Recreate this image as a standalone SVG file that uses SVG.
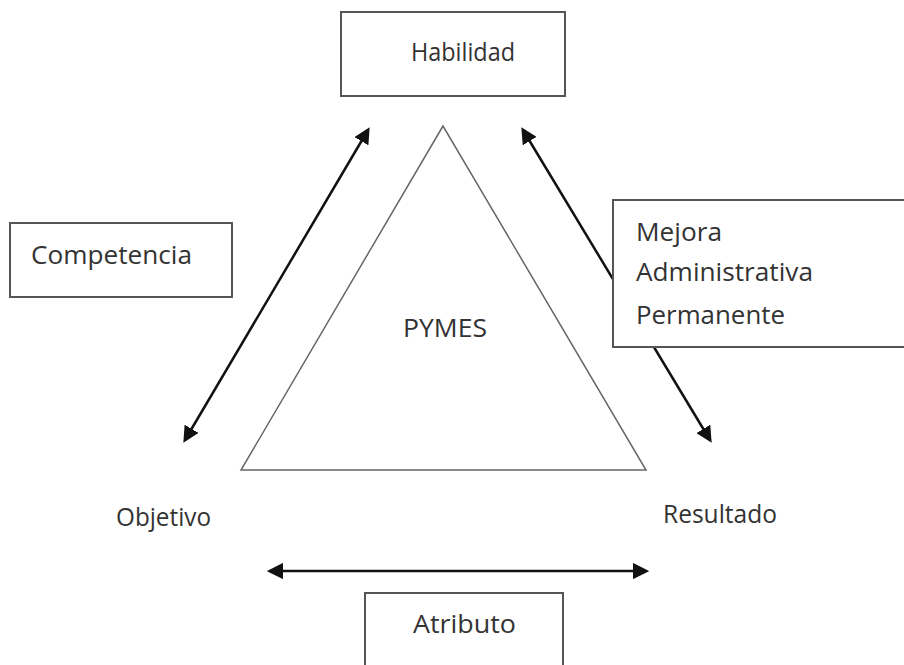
<svg xmlns="http://www.w3.org/2000/svg" width="904" height="665" viewBox="0 0 904 665">
<defs>
<style>
.box{fill:#fff;stroke:#555;stroke-width:2}
.t{font-family:"Open Sans","Liberation Sans",sans-serif;fill:#333}
.c{stroke:#111;stroke-width:2.5;fill:none;marker-start:url(#ah);marker-end:url(#ah)}
.tri{fill:#fff;stroke:#666;stroke-width:1.5}
</style>
<marker id="ah" viewBox="0 0 10 10" refX="8" refY="5" markerWidth="6.5" markerHeight="6.5" orient="auto-start-reverse" markerUnits="strokeWidth">
<path d="M0,0 L10,5 L0,10 z" fill="#111"/>
</marker>
</defs>
<rect width="904" height="665" fill="#fff"/>
<g id="connectors">
<line class="c" x1="185" y1="440" x2="368" y2="130"/>
<line class="c" x1="523" y1="130" x2="710" y2="440"/>
<line class="c" x1="270" y1="571" x2="646" y2="571"/>
</g>
<g id="pymes">
<polygon class="tri" points="443,126 241,470 646,470"/>
<text class="t" x="403" y="337" font-size="25" textLength="84" lengthAdjust="spacingAndGlyphs">PYMES</text>
</g>
<g id="habilidad">
<rect class="box" x="341" y="12" width="224" height="84"/>
<text class="t" x="411" y="61" font-size="26" textLength="104" lengthAdjust="spacingAndGlyphs">Habilidad</text>
</g>
<g id="competencia">
<rect class="box" x="10" y="223" width="222" height="74"/>
<text class="t" x="31" y="264" font-size="26" textLength="161" lengthAdjust="spacingAndGlyphs">Competencia</text>
</g>
<g id="mejora">
<rect class="box" x="613" y="200" width="300" height="147"/>
<text class="t" x="636" y="241" font-size="26" textLength="86" lengthAdjust="spacingAndGlyphs">Mejora</text>
<text class="t" x="636" y="281" font-size="26" textLength="177" lengthAdjust="spacingAndGlyphs">Administrativa</text>
<text class="t" x="636" y="324" font-size="26" textLength="149" lengthAdjust="spacingAndGlyphs">Permanente</text>
</g>
<g id="objetivo">
<text class="t" x="116" y="526" font-size="25" textLength="95" lengthAdjust="spacingAndGlyphs">Objetivo</text>
</g>
<g id="resultado">
<text class="t" x="663" y="523" font-size="25" textLength="114" lengthAdjust="spacingAndGlyphs">Resultado</text>
</g>
<g id="atributo">
<rect class="box" x="365" y="593" width="198" height="80"/>
<text class="t" x="413" y="633" font-size="26" textLength="103" lengthAdjust="spacingAndGlyphs">Atributo</text>
</g>
</svg>
